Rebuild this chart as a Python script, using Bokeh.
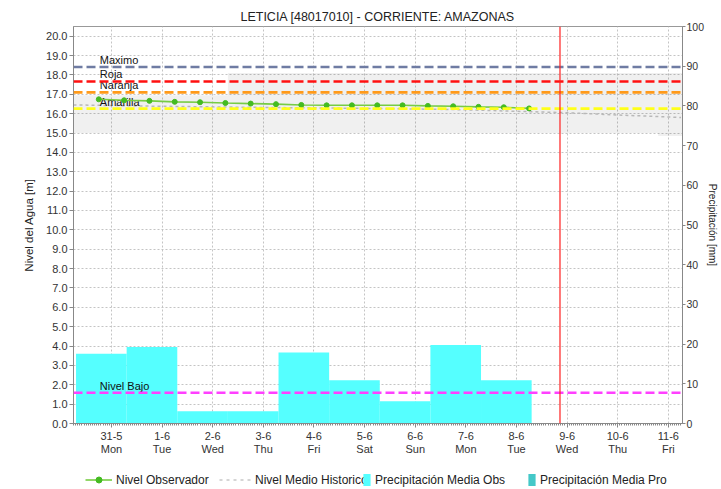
from bokeh.plotting import figure
from bokeh.layouts import column
from bokeh.models import (Range1d, LinearAxis, FixedTicker, Span, Legend, LegendItem,
                          NumeralTickFormatter)
from bokeh.core.properties import value
from bokeh.embed import file_html
from bokeh.resources import INLINE

FONT = "Liberation Sans"

title_text = "LETICIA [48017010] - CORRIENTE: AMAZONAS"

# x axis: days (0 = 31-5)
day_pos = [0, 1, 2, 3, 4, 5, 6, 7, 8, 9, 10, 11]
date_labels = ["31-5", "1-6", "2-6", "3-6", "4-6", "5-6", "6-6", "7-6", "8-6", "9-6", "10-6", "11-6"]
weekday_labels = ["Mon", "Tue", "Wed", "Thu", "Fri", "Sat", "Sun", "Mon", "Tue", "Wed", "Thu", "Fri"]

# precipitation (mm), daily bars starting ~07:00 previous day
precip_start = [-0.7, 0.3, 1.3, 2.3, 3.3, 4.3, 5.3, 6.3, 7.3]
precip_end = [0.3, 1.3, 2.3, 3.3, 4.3, 5.3, 6.3, 7.3, 8.3]
precip_obs = [17.6, 19.3, 3.1, 3.1, 17.9, 10.9, 5.6, 19.8, 10.9]

# observed water level (m), every 12 h
obs_time = [-0.25, 0.25, 0.75, 1.25, 1.75, 2.25, 2.75, 3.25, 3.75,
            4.25, 4.75, 5.25, 5.75, 6.25, 6.75, 7.25, 7.75, 8.25]
obs_level = [16.74, 16.69, 16.66, 16.61, 16.59, 16.55, 16.52, 16.49, 16.45,
             16.43, 16.43, 16.43, 16.43, 16.40, 16.38, 16.35, 16.33, 16.27]

# historical mean level (m)
hist_time = [-0.75, 0, 1, 2, 3, 4, 5, 6, 7, 8, 9, 10, 11, 11.25]
hist_mean = [16.45, 16.42, 16.38, 16.35, 16.32, 16.30, 16.27, 16.24, 16.20, 16.12,
             16.05, 15.93, 15.83, 15.80]

# historical envelope (m)
band_time = [-0.75, 2.3, 2.3, 10.8, 10.8, 11.28]
band_low = [15.0, 15.0, 15.0, 15.0, 14.85, 14.85]
band_high = [16.95, 16.95, 18.1, 18.1, 18.1, 18.1]

# alert levels (m)
level_names = ["Maximo", "Roja", "Naranja", "Amarilla", "Nivel Bajo"]
level_values = [18.41, 17.66, 17.10, 16.26, 1.59]
level_colors = ["#6F7CA3", "#FF1010", "#FF9A1A", "#FFFF1A", "#FF40FF"]
level_label_x = [-0.23, -0.23, -0.23, -0.23, -0.23]

now_time = 8.86

legend_names = ["Nivel Observador", "Nivel Medio Historico",
                "Precipitación Media Obs", "Precipitación Media Pro"]

p = figure(width=721, height=466, x_range=Range1d(-0.75, 11.28), y_range=Range1d(0, 20.5),
           output_backend="svg", toolbar_location=None,
           min_border_left=73, min_border_right=36, min_border_top=26, min_border_bottom=43)
p.extra_y_ranges = {"precip": Range1d(0, 100)}

p.title.text = title_text
p.title.align = "center"
p.title.vertical_align = "middle"
p.title.text_font = FONT
p.title.text_font_size = "12.5px"
p.title.text_font_style = "normal"
p.title.text_color = "#222222"
p.title.standoff = 4
p.outline_line_color = "#999999"
p.background_fill_color = "white"

# axes
p.xaxis.ticker = FixedTicker(ticks=day_pos,
                             minor_ticks=[h / 24 for h in range(-18, 271)])
p.xaxis.major_label_overrides = dict(zip(day_pos, date_labels))
wax = LinearAxis(ticker=FixedTicker(ticks=day_pos),
                 major_label_overrides=dict(zip(day_pos, weekday_labels)))
p.add_layout(wax, "below")

p.yaxis.ticker = FixedTicker(ticks=list(range(0, 21)))
p.yaxis.formatter = NumeralTickFormatter(format="0.0")
p.yaxis.axis_label = "Nivel del Agua [m]"

rax = LinearAxis(y_range_name="precip", axis_label="Precipitación [mm]",
                 ticker=FixedTicker(ticks=list(range(0, 101, 10))))
p.add_layout(rax, "right")

for ax in [p.xaxis[0], wax, p.yaxis[0], rax]:
    ax.axis_line_color = "#888888"
    ax.major_tick_line_color = "#888888"
    ax.minor_tick_line_color = "#888888"
    ax.major_tick_out = 4
    ax.major_tick_in = 0
    ax.minor_tick_in = 0
    ax.minor_tick_out = 2
    ax.major_label_text_font = FONT
    ax.major_label_text_font_size = "11px"
    ax.major_label_text_color = "#333333"
    ax.axis_label_text_font = FONT
    ax.axis_label_text_font_size = "11.5px"
    ax.axis_label_text_font_style = "normal"
    ax.axis_label_text_color = "#222222"
    ax.major_label_standoff = 2
p.yaxis[0].minor_tick_line_color = None
rax.minor_tick_line_color = None
rax.axis_label_standoff = 0
rax.major_tick_out = 3
rax.major_label_standoff = 1
rax.major_label_text_font_size = "10.5px"
rax.axis_label_text_font_size = "10px"
p.yaxis[0].axis_label_standoff = 8
p.xaxis[0].major_label_standoff = 4
wax.axis_line_color = None
wax.major_tick_line_color = None
wax.minor_tick_line_color = None
wax.major_label_standoff = 0
wax.major_tick_out = 0
wax.minor_tick_out = 0

p.xgrid.grid_line_color = "#c4c4c4"
p.xgrid.grid_line_dash = "2 2"
p.ygrid.grid_line_color = "#c4c4c4"
p.ygrid.grid_line_dash = "2 2"

# historical envelope
p.varea(x=band_time, y1=band_low, y2=band_high, fill_color="#000000", fill_alpha=0.06)

# precipitation bars
p.quad(left=precip_start, right=precip_end, bottom=0, top=precip_obs,
       y_range_name="precip", fill_color="#55FFFF", line_color=None)

# historical mean
p.line(hist_time, hist_mean, line_color="#b8b8b8", line_width=1.5, line_dash="3 3")

# alert levels
for v, c in zip(level_values, level_colors):
    p.add_layout(Span(location=v, dimension="width", line_color=c, line_width=2.6,
                      line_dash="9 4"))

p.text(x=level_label_x, y=level_values, text=level_names, text_font=value(FONT),
       text_font_size="11px", text_color="#111111", text_baseline="bottom",
       text_align="left", y_offset=-1)

# observed level
p.line(obs_time, obs_level, line_color="#77CC44", line_width=1.6)
p.scatter(obs_time, obs_level, marker="circle", size=5,
          fill_color="#44BB22", line_color="#44BB22")

# now line
p.add_layout(Span(location=now_time, dimension="height", line_color="#FF2020", line_width=1.2))

# ---- legend strip (separate figure so it is not clipped) ----
lf = figure(width=721, height=23, x_range=Range1d(0, 1), y_range=Range1d(0, 1),
            output_backend="svg", toolbar_location=None,
            x_axis_location=None, y_axis_location=None,
            min_border_left=73, min_border_right=36, min_border_top=0, min_border_bottom=0)
lf.grid.visible = False
lf.outline_line_color = None

r_obs_l = lf.line([-5, -4], [-5, -5], line_color="#77CC44", line_width=1.6)
r_obs_p = lf.scatter([-5], [-5], marker="circle", size=5, fill_color="#44BB22", line_color="#44BB22")
r_hist = lf.line([-5, -4], [-5, -5], line_color="#c8c8c8", line_width=1.5, line_dash="3 4")
r_pobs = lf.quad(left=[-5], right=[-4], bottom=[-5], top=[-4], fill_color="#55FFFF", line_color=None)
r_ppro = lf.quad(left=[-5], right=[-4], bottom=[-5], top=[-4], fill_color="#44C8C8", line_color=None)

# legend offsets are measured from the (aligned) plot frame's left edge
leg_specs = [([r_obs_l, r_obs_p], 27, 12), ([r_hist], 32, 146),
             ([r_pobs], 9, 289), ([r_ppro], 9, 454)]
for name, (rends, gw, xpos) in zip(legend_names, leg_specs):
    lg = Legend(items=[LegendItem(label=name, renderers=rends)],
                location=(xpos, 2), orientation="horizontal",
                border_line_alpha=0, background_fill_alpha=0,
                label_text_font=FONT, label_text_font_size="12px", label_text_color="#222222",
                glyph_width=gw, glyph_height=15, label_height=15,
                spacing=0, padding=0, margin=0, label_standoff=4)
    lf.add_layout(lg, "center")

open("out.html", "w").write(file_html(column(p, lf, spacing=0), INLINE))
